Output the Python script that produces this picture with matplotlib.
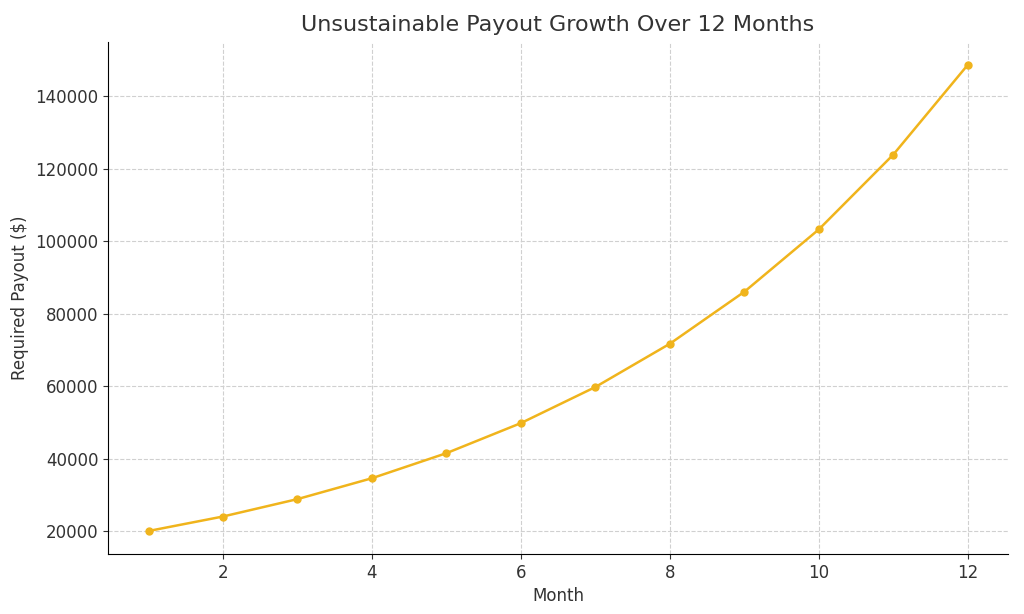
import matplotlib.pyplot as plt

months = [1, 2, 3, 4, 5, 6, 7, 8, 9, 10, 11, 12]
payouts = [20000, 24000, 28800, 34560, 41472, 49766, 59720, 71664,
           85996, 103196, 123835, 148602]

fig = plt.figure(figsize=(10.24, 6.14), dpi=100)
ax = fig.add_axes([108 / 1024, 1 - 554 / 614, 900 / 1024, 512 / 614])
ax.plot(months, payouts, color="#f0b41c", marker="o", markersize=5, linewidth=1.8)
ax.set_xlim(0.456, 12.54)
ax.set_ylim(13655, 154900)
ax.set_xticks([2, 4, 6, 8, 10, 12])
ax.set_yticks(range(20000, 140001, 20000))
ax.grid(True, linestyle="--", color="#d0d0d0", linewidth=0.8)
for side in ("top", "right"):
    ax.spines[side].set_visible(False)
ax.tick_params(labelsize=12, colors="#333333")
ax.set_title("Unsustainable Payout Growth Over 12 Months", fontsize=16,
             color="#333333", pad=8)
ax.set_xlabel("Month", fontsize=12, color="#333333")
ax.set_ylabel("Required Payout ($)", fontsize=12, color="#333333")
fig.savefig("out.png", dpi=100)
